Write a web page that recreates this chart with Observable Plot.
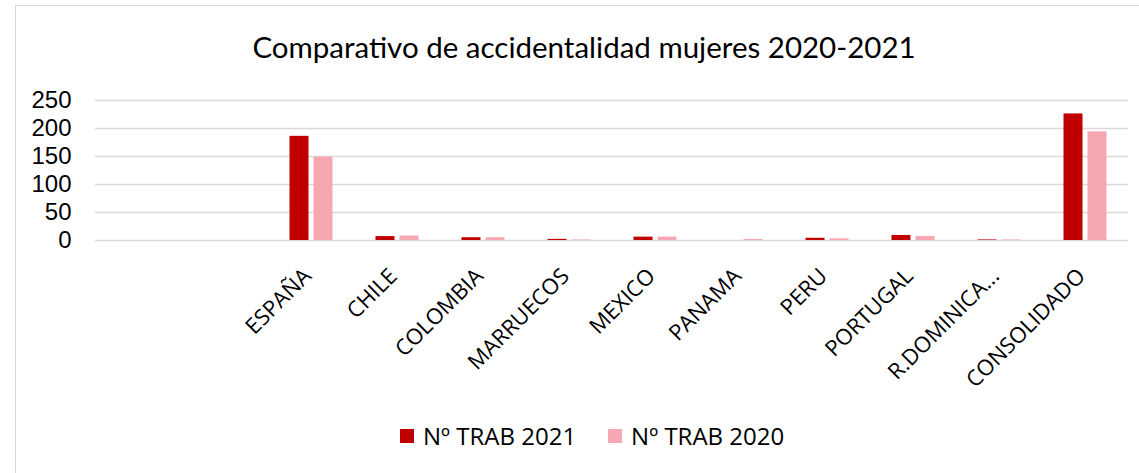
<!DOCTYPE html>
<html>
<head>
<meta charset="utf-8">
<script src="https://cdn.jsdelivr.net/npm/d3@7"></script>
<script src="https://cdn.jsdelivr.net/npm/@observablehq/plot@0.6"></script>
<style>
  html, body { margin: 0; padding: 0; background: #fff; }
  #frame { position: absolute; left: 15px; top: 5px; width: 1140px; height: 480px; border: 1.5px solid #d9d9d9; box-sizing: border-box; }
  #title { position: absolute; left: 0; width: 1168px; top: 29px; text-align: center; font-family: Lato, sans-serif; font-size: 29.5px; color: #000; }
  #chart { position: absolute; left: 0; top: 0; }
  #legend { position: absolute; left: 400px; top: 419px; display: flex; align-items: center; font-family: "Open Sans", sans-serif; font-size: 24px; color: #000; }
  .sw { width: 14px; height: 14px; display: inline-block; margin-right: 9px; }
  .item { display: flex; align-items: center; margin-right: 32px; }
</style>
</head>
<body>
<div id="frame"></div>
<div id="title">Comparativo de accidentalidad mujeres 2020-2021</div>
<div id="chart"></div>
<div id="legend"></div>
<script>
// Categories (two leading empty slots as in the original)
const categories = ["", " ", "ESPAÑA", "CHILE", "COLOMBIA", "MARRUECOS", "MEXICO", "PANAMA", "PERU", "PORTUGAL", "R.DOMINICANA", "CONSOLIDADO"];
const trab2021 = [null, null, 186, 7, 5, 2, 6, 0, 4, 9, 1, 226];
const trab2020 = [null, null, 149, 8, 5, 1, 6, 2, 3, 7, 1, 194];
const seriesNames = ["Nº TRAB 2021", "Nº TRAB 2020"];
const seriesColors = ["#c00000", "#f7a7b2"];
const yTicks = [0, 50, 100, 150, 200, 250];

const rows = [];
categories.forEach((c, i) => {
  if (trab2021[i] != null) rows.push({cat: c, series: seriesNames[0], v: trab2021[i]});
  if (trab2020[i] != null) rows.push({cat: c, series: seriesNames[1], v: trab2020[i]});
});

// The original truncates the longest label
const fmt = d => d.length > 11 ? d.slice(0, 10) + "..." : d;

const chart = Plot.plot({
  width: 1139,
  height: 410,
  marginLeft: 95,
  marginRight: 11,
  marginTop: 100,
  marginBottom: 170,
  style: {fontFamily: "'Open Sans', sans-serif", color: "#000", background: "transparent"},
  x: {domain: categories, padding: 0, label: null},
  y: {domain: [0, 250], label: null},
  marks: [
    Plot.gridY(yTicks, {stroke: "#d9d9d9", strokeOpacity: 1, strokeWidth: 1.4}),
    Plot.axisY(yTicks, {tickSize: 0, tickPadding: 24, fontSize: 24, fontFamily: "Liberation Sans, sans-serif", label: null}),
    Plot.axisX({tickSize: 0, tickRotate: -45, fontSize: 22, tickPadding: 32, dx: -4, tickFormat: fmt, lineWidth: Infinity, textOverflow: null, label: null}),
    Plot.barY(rows.filter(d => d.series === seriesNames[0]), {x: "cat", y: "v", fill: seriesColors[0], insetLeft: 21.5, insetRight: 45.5}),
    Plot.barY(rows.filter(d => d.series === seriesNames[1]), {x: "cat", y: "v", fill: seriesColors[1], insetLeft: 45.5, insetRight: 21.5})
  ]
});
document.getElementById("chart").appendChild(chart);

const lg = document.getElementById("legend");
seriesNames.forEach((s, i) => {
  const it = document.createElement("div");
  it.className = "item";
  it.innerHTML = `<span class="sw" style="background:${seriesColors[i]}"></span><span>${s}</span>`;
  lg.appendChild(it);
});
</script>
</body>
</html>
